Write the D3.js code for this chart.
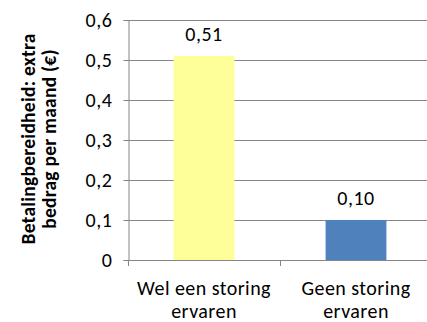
<!DOCTYPE html>
<html><head><meta charset="utf-8">
<script src="https://cdn.jsdelivr.net/npm/d3@7"></script>
<style>body{margin:0;background:#fff}svg{display:block}</style>
</head><body>
<script>
// Willingness to pay: extra amount per month (€)
const categories = [["Wel een storing", "ervaren"], ["Geen storing", "ervaren"]];
const values = [0.51, 0.10];
const colors = ["#FFFF99", "#4F81BD"];
const yTicks = [0, 0.1, 0.2, 0.3, 0.4, 0.5, 0.6];
const yTitle = ["Betalingbereidheid: extra", "bedrag per maand (€)"];

const W = 427, H = 322;
const font = "Carlito, Calibri, 'Open Sans', sans-serif";
const svg = d3.select("body").append("svg").attr("width", W).attr("height", H);

const x0 = 128, x1 = 432;
const x = d3.scaleBand().domain(d3.range(values.length)).range([x0, x1]).paddingInner(0.6).paddingOuter(0.3);
const y = d3.scaleLinear().domain([0, 0.6]).range([260, 20]);
const fmt = v => v === 0 ? "0" : d3.format(".1f")(v).replace(".", ",");

// gridlines
svg.append("g").selectAll("line").data(yTicks.filter(d => d > 0)).join("line")
  .attr("x1", x0).attr("x2", W).attr("y1", d => y(d) + 0.5).attr("y2", d => y(d) + 0.5)
  .attr("stroke", "#868686").attr("stroke-width", 1);

// bars
svg.append("g").selectAll("rect").data(values).join("rect")
  .attr("x", (d, i) => x(i)).attr("width", x.bandwidth())
  .attr("y", d => y(d)).attr("height", d => y(0) - y(d))
  .attr("fill", (d, i) => colors[i]);

// y axis
const ya = svg.append("g").attr("transform", `translate(${x0 + 0.5},0)`)
  .call(d3.axisLeft(y).tickValues(yTicks).tickFormat(fmt).tickSize(5).tickPadding(11));
ya.selectAll("path,line").attr("stroke", "#868686");
ya.selectAll("text").attr("font-family", font).attr("font-size", 20).attr("letter-spacing", 0.6).attr("fill", "#000");

// x axis line and ticks
const band = (x1 - x0) / values.length;
svg.append("line").attr("x1", x0).attr("x2", W).attr("y1", 260.5).attr("y2", 260.5).attr("stroke", "#868686");
svg.append("g").selectAll("line").data(d3.range(values.length + 1)).join("line")
  .attr("x1", d => x0 + 0.5 + d * band).attr("x2", d => x0 + 0.5 + d * band)
  .attr("y1", 260).attr("y2", 266).attr("stroke", "#868686");

// category labels
svg.append("g").selectAll("text").data(categories).join("text")
  .attr("font-family", font).attr("font-size", 20).attr("letter-spacing", 0.45).attr("text-anchor", "middle")
  .attr("x", (d, i) => x(i) + x.bandwidth() / 2)
  .selectAll("tspan").data(d => d).join("tspan")
  .attr("x", function() { return this.parentNode.getAttribute("x"); })
  .attr("y", (d, j) => 295 + j * 23).text(d => d);

// value labels
svg.append("g").selectAll("text").data(values).join("text")
  .attr("font-family", font).attr("font-size", 20).attr("letter-spacing", 0.5).attr("text-anchor", "middle")
  .attr("x", (d, i) => x(i) + x.bandwidth() / 2).attr("y", d => y(d) - 15)
  .text(d => d3.format(".2f")(d).replace(".", ","));

// y axis title
svg.append("text").attr("transform", "translate(0,139) rotate(-90)")
  .attr("font-family", font).attr("font-size", 19.5).attr("font-weight", "bold").attr("letter-spacing", 0.25).attr("text-anchor", "middle")
  .selectAll("tspan").data(yTitle).join("tspan")
  .attr("x", 0).attr("y", (d, j) => 35 + j * 21).text(d => d);
</script>
</body></html>
